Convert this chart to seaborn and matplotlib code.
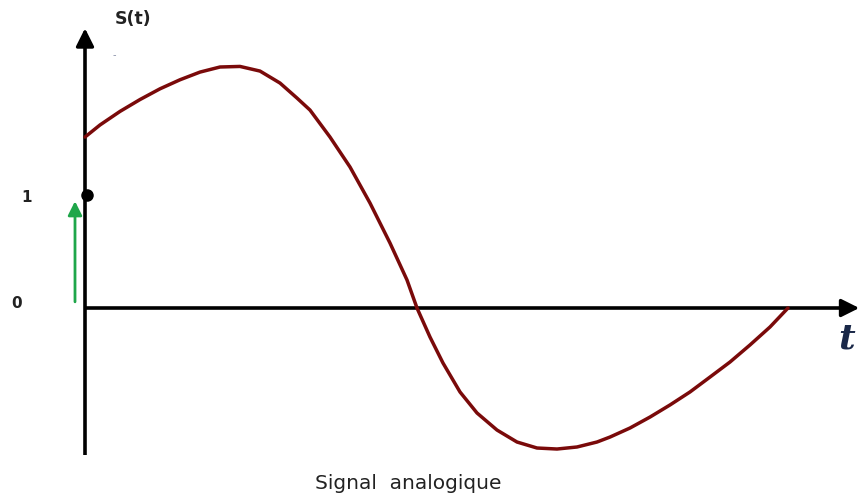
import numpy as np
import pandas as pd
import seaborn as sns
import matplotlib
matplotlib.use("Agg")
import matplotlib.pyplot as plt

# Curve samples (t in arbitrary units, S(t) in units where "1" is marked)
t_vals = [0.00, 0.15, 0.35, 0.55, 0.75, 0.95, 1.15, 1.35, 1.55, 1.75, 1.95, 2.12,
          2.25, 2.45, 2.65, 2.85, 3.05, 3.22, 3.32, 3.45, 3.58, 3.75, 3.92, 4.12,
          4.32, 4.52, 4.72, 4.92, 5.12, 5.25, 5.45, 5.65, 5.85, 6.05, 6.25, 6.45,
          6.65, 6.85, 7.03]
s_vals = [1.513, 1.620, 1.740, 1.845, 1.940, 2.020, 2.088, 2.133, 2.138, 2.097, 1.991, 1.858,
          1.752, 1.513, 1.248, 0.929, 0.575, 0.248, 0.000, -0.257, -0.487, -0.743, -0.929, -1.080,
          -1.186, -1.239, -1.248, -1.230, -1.186, -1.142, -1.062, -0.965, -0.858, -0.743, -0.611, -0.478,
          -0.327, -0.168, 0.000]
y_tick_labels = ["0", "1"]
y_tick_values = [0, 1]

df = pd.DataFrame({"t": t_vals, "S": s_vals})

sns.set_theme(style="white")
plt.rcParams['font.family'] = ['DejaVu Sans']

fig = plt.figure(figsize=(8.67, 5.01), dpi=100)
ax = fig.add_axes([0, 0, 1, 1])

# axes drawn as arrows
ax.plot([0, 0], [-1.30, 2.38], color="black", lw=2.6, solid_capstyle="butt", zorder=2)
ax.annotate("", xy=(0, 2.50), xytext=(0, 2.30),
            arrowprops=dict(arrowstyle="-|>,head_length=0.9,head_width=0.45", color="black", lw=2.4))
ax.plot([0, 7.60], [0, 0], color="black", lw=2.6, solid_capstyle="butt", zorder=2)
ax.annotate("", xy=(7.77, 0), xytext=(7.55, 0),
            arrowprops=dict(arrowstyle="-|>,head_length=0.9,head_width=0.45", color="black", lw=2.4))

# signal curve
sns.lineplot(data=df, x="t", y="S", ax=ax, color="#7a0a0a", lw=2.5, zorder=3, legend=False,
             sort=False, solid_joinstyle="round", solid_capstyle="round")
ax.set_xlim(-0.85, 7.82)
ax.set_ylim(-1.708, 2.726)
ax.axis("off")

# green arrow for amplitude 1
ax.annotate("", xy=(-0.10, 0.97), xytext=(-0.10, 0.03),
            arrowprops=dict(arrowstyle="-|>,head_length=0.7,head_width=0.35", color="#1fa64a", lw=2.0))
# black dot at 1
ax.plot([0.02], [1.0], marker="o", markersize=8, color="black", zorder=4)

# labels
label_pos = {"0": (-0.68, 0.04), "1": (-0.58, 0.98)}
for lab, val in zip(y_tick_labels, y_tick_values):
    x, y = label_pos[lab]
    ax.text(x, y, lab, fontsize=11, fontweight="bold", ha="center", va="center", color="#222222")
ax.text(0.48, 2.56, "S(t)", fontsize=12.5, fontweight="bold", ha="center", va="center", color="#222222")
ax.text(0.29, 2.24, "-", fontsize=7, ha="center", va="center", color="#8890a8")
ax.text(7.62, -0.27, "t", fontsize=26, fontstyle="italic", fontweight="bold", family="DejaVu Serif",
        ha="center", va="center", color="#1a2848")
ax.text(3.23, -1.55, "Signal  analogique", fontsize=14.5, ha="center", va="center", color="#222222")

fig.savefig("out.png", dpi=100, facecolor="white")
